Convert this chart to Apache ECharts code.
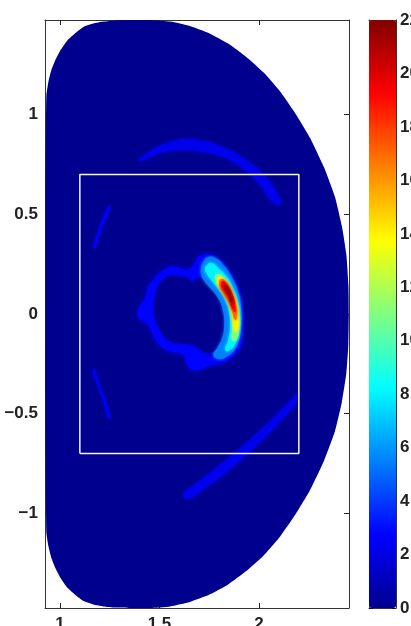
<!DOCTYPE html>
<html>
<head>
<meta charset="utf-8">
<script src="https://cdn.jsdelivr.net/npm/echarts@6/dist/echarts.min.js"></script>
<style>
  html, body { margin: 0; padding: 0; background: #ffffff; }
  #chart { width: 411px; height: 626px; }
</style>
</head>
<body>
<div id="chart"></div>
<script>
// Poloidal cross-section (R, Z in metres) with emissivity levels.

// Plasma boundary, upper and lower halves
const wallUpper = [[0.927,0],[0.927,0.571],[0.930,0.972],[0.932,1.098],[0.942,1.163],[0.957,1.223],[0.977,1.273],[1.003,1.323],[1.038,1.373],[1.078,1.409],[1.118,1.439],[1.168,1.456],[1.218,1.466],[1.278,1.472],[1.353,1.474],[1.454,1.474],[1.554,1.466],[1.652,1.444],[1.749,1.408],[1.845,1.356],[1.936,1.289],[2.025,1.209],[2.108,1.113],[2.185,1.002],[2.256,0.884],[2.326,0.737],[2.381,0.589],[2.416,0.442],[2.439,0.295],[2.449,0.147],[2.451,0]];
const wallLower = [[2.449,-0.147],[2.439,-0.295],[2.416,-0.442],[2.381,-0.589],[2.326,-0.737],[2.256,-0.884],[2.185,-1.002],[2.108,-1.113],[2.025,-1.209],[1.936,-1.289],[1.845,-1.356],[1.749,-1.408],[1.652,-1.444],[1.554,-1.466],[1.454,-1.474],[1.353,-1.474],[1.278,-1.472],[1.218,-1.466],[1.168,-1.456],[1.118,-1.439],[1.078,-1.409],[1.038,-1.373],[1.003,-1.323],[0.977,-1.273],[0.957,-1.223],[0.942,-1.163],[0.932,-1.098],[0.930,-0.972],[0.927,-0.571]];

// Faint arcs
const upperArc = [[1.394,0.772],[1.469,0.827],[1.554,0.862],[1.639,0.877],[1.719,0.867],[1.805,0.842],[1.890,0.802],[1.970,0.747],[2.040,0.682],[2.090,0.607],[2.110,0.546],[2.070,0.561],[2.005,0.647],[1.940,0.712],[1.855,0.772],[1.770,0.802],[1.689,0.817],[1.604,0.822],[1.519,0.812],[1.454,0.787],[1.404,0.767]];
const lowerArc = [[1.619,-0.902],[1.694,-0.842],[1.795,-0.762],[1.895,-0.682],[1.990,-0.597],[2.080,-0.511],[2.155,-0.436],[2.196,-0.396],[2.206,-0.411],[2.171,-0.466],[2.100,-0.546],[2.015,-0.632],[1.925,-0.717],[1.825,-0.802],[1.724,-0.877],[1.644,-0.927]];
const leftUpperArc = [[1.168,0.336],[1.188,0.406],[1.218,0.486],[1.243,0.541],[1.253,0.536],[1.228,0.471],[1.198,0.396],[1.178,0.331]];
const leftLowerArc = [[1.163,-0.281],[1.188,-0.356],[1.218,-0.441],[1.243,-0.526],[1.253,-0.521],[1.228,-0.431],[1.198,-0.351],[1.173,-0.276]];
const arcValues = [2.3, 2.3, 2.5, 2.5];

// Radiating ring around the core
const ringOuter = [[1.514,0.216],[1.549,0.236],[1.589,0.236],[1.639,0.221],[1.679,0.256],[1.689,0.281],[1.714,0.296],[1.754,0.296],[1.790,0.281],[1.840,0.231],[1.880,0.160],[1.905,0.095],[1.920,0.010],[1.920,-0.070],[1.915,-0.140],[1.890,-0.191],[1.845,-0.231],[1.790,-0.251],[1.744,-0.261],[1.714,-0.276],[1.664,-0.281],[1.639,-0.251],[1.629,-0.216],[1.604,-0.196],[1.564,-0.191],[1.519,-0.171],[1.479,-0.125],[1.454,-0.075],[1.434,-0.040],[1.404,-0.030],[1.389,-0.005],[1.399,0.035],[1.429,0.080],[1.444,0.135],[1.479,0.185]];
const ringHole = [[1.554,0.190],[1.594,0.185],[1.639,0.180],[1.664,0.160],[1.689,0.175],[1.719,0.180],[1.770,0.130],[1.815,0.060],[1.830,-0.005],[1.835,-0.070],[1.820,-0.130],[1.795,-0.171],[1.764,-0.196],[1.724,-0.191],[1.684,-0.160],[1.644,-0.150],[1.604,-0.145],[1.564,-0.140],[1.529,-0.115],[1.499,-0.070],[1.479,-0.020],[1.474,0.030],[1.479,0.085],[1.494,0.135],[1.519,0.170]];
const ringValues = [2.8, 0];

// Bright band on the low-field side, one contour per level
const band1 = [[1.719,0.261],[1.744,0.286],[1.780,0.281],[1.825,0.241],[1.865,0.180],[1.895,0.110],[1.910,0.030],[1.910,-0.055],[1.900,-0.130],[1.875,-0.181],[1.835,-0.216],[1.795,-0.226],[1.770,-0.206],[1.790,-0.171],[1.815,-0.120],[1.825,-0.055],[1.820,0.010],[1.800,0.070],[1.764,0.120],[1.729,0.160],[1.709,0.200],[1.709,0.236]];
const band2 = [[1.739,0.246],[1.764,0.256],[1.795,0.231],[1.835,0.190],[1.870,0.130],[1.895,0.060],[1.905,-0.020],[1.900,-0.090],[1.885,-0.140],[1.855,-0.181],[1.830,-0.181],[1.845,-0.130],[1.855,-0.060],[1.850,0.010],[1.830,0.070],[1.800,0.120],[1.764,0.165],[1.739,0.200],[1.729,0.226]];
const band3 = [[1.790,0.200],[1.820,0.185],[1.855,0.135],[1.885,0.070],[1.900,-0.005],[1.900,-0.080],[1.885,-0.130],[1.865,-0.130],[1.865,-0.070],[1.860,-0.005],[1.845,0.060],[1.820,0.110],[1.790,0.155],[1.780,0.180]];
const band4 = [[1.800,0.185],[1.830,0.170],[1.860,0.120],[1.885,0.060],[1.895,-0.010],[1.895,-0.070],[1.880,-0.090],[1.870,-0.040],[1.860,0.020],[1.840,0.075],[1.810,0.120],[1.790,0.155]];
const band5 = [[1.810,0.175],[1.840,0.155],[1.865,0.105],[1.885,0.045],[1.890,-0.005],[1.880,-0.030],[1.865,0.010],[1.845,0.060],[1.815,0.110],[1.800,0.145]];
const band6 = [[1.820,0.165],[1.845,0.140],[1.870,0.090],[1.880,0.040],[1.880,0.010],[1.865,0.030],[1.845,0.080],[1.820,0.120],[1.810,0.145]];
const band7 = [[1.830,0.145],[1.850,0.120],[1.865,0.080],[1.870,0.045],[1.855,0.070],[1.840,0.105],[1.825,0.130]];
const bandLevels = [5.5, 8, 11, 14, 17, 19.5, 21.5];

// Viewing window
const windowR = [1.1, 1.1, 2.2, 2.2, 1.1];
const windowZ = [-0.7, 0.7, 0.7, -0.7, -0.7];

// Axes and colour scale
const xTicks = [1, 1.5, 2];
const yTicks = [-1, -0.5, 0, 0.5, 1];
const rRange = [0.925, 2.452];
const zRange = [-1.474, 1.474];
const cRange = [0, 22];
const cStep = 2;

const jet = ['#00008f', '#0000ff', '#0080ff', '#00ffff', '#80ff80', '#ffff00', '#ff8000', '#ff0000', '#800000'];

const labelFont = { fontFamily: 'Liberation Sans, Arial, sans-serif', fontWeight: 'bold', fontSize: 17, color: '#222222' };
const fmt = v => String(v).replace('-', '\u2212');

function polygonSeries(name, pts, value, smooth, blur) {
  return {
    type: 'custom',
    name: name,
    coordinateSystem: 'cartesian2d',
    xAxisIndex: 0,
    yAxisIndex: 0,
    clip: true,
    silent: true,
    encode: { x: 0, y: 1 },
    data: pts.map(p => [p[0], p[1], value]),
    renderItem: function (params, api) {
      if (params.dataIndex !== 0) return null;
      const points = pts.map(p => api.coord(p));
      const color = api.visual('color');
      return {
        type: 'polygon',
        shape: { points: points, smooth: smooth },
        style: { fill: color, shadowBlur: blur, shadowColor: color }
      };
    }
  };
}

const series = [];
series.push(polygonSeries('plasma', wallUpper.concat(wallLower), 0, 0.15, 0));
[upperArc, lowerArc, leftUpperArc, leftLowerArc].forEach((a, i) =>
  series.push(polygonSeries('arc' + i, a, arcValues[i], 0.4, 3)));
series.push(polygonSeries('ring', ringOuter, ringValues[0], 0.4, 4));
series.push(polygonSeries('ringHole', ringHole, ringValues[1], 0.4, 3));
[band1, band2, band3, band4, band5, band6, band7].forEach((b, i) =>
  series.push(polygonSeries('band' + i, b, bandLevels[i], 0.5, 3)));
const customCount = series.length;

series.push({
  type: 'line',
  name: 'window',
  xAxisIndex: 0,
  yAxisIndex: 0,
  data: windowR.map((r, i) => [r, windowZ[i]]),
  symbol: 'none',
  silent: true,
  lineStyle: { color: '#f6f6f6', width: 1.5 },
  z: 5
});

const tickStyle = { inside: true, length: 5, lineStyle: { color: '#222', width: 1 } };
const lineStyle = { show: true, onZero: false, lineStyle: { color: '#333', width: 1 } };

const option = {
  animation: false,
  backgroundColor: '#ffffff',
  grid: [
    { left: 45, top: 20, width: 304, height: 588, show: false, containLabel: false, outerBoundsMode: 'none' },
    { left: 369, top: 20, width: 27, height: 588, show: false, containLabel: false, outerBoundsMode: 'none' }
  ],
  xAxis: [
    { type: 'value', gridIndex: 0, position: 'bottom', min: rRange[0], max: rRange[1],
      axisLine: lineStyle, splitLine: { show: false },
      axisTick: Object.assign({ customValues: xTicks }, tickStyle),
      axisLabel: Object.assign({ customValues: xTicks, margin: 8, formatter: fmt }, labelFont) },
    { type: 'value', gridIndex: 0, position: 'top', min: rRange[0], max: rRange[1],
      axisLine: lineStyle, splitLine: { show: false },
      axisTick: Object.assign({ customValues: xTicks }, tickStyle),
      axisLabel: { show: false } },
    { type: 'value', gridIndex: 1, position: 'bottom', min: 0, max: 1,
      axisLine: lineStyle, axisTick: { show: false }, axisLabel: { show: false }, splitLine: { show: false } },
    { type: 'value', gridIndex: 1, position: 'top', min: 0, max: 1,
      axisLine: lineStyle, axisTick: { show: false }, axisLabel: { show: false }, splitLine: { show: false } }
  ],
  yAxis: [
    { type: 'value', gridIndex: 0, position: 'left', min: zRange[0], max: zRange[1],
      axisLine: lineStyle, splitLine: { show: false },
      axisTick: Object.assign({ customValues: yTicks }, tickStyle),
      axisLabel: Object.assign({ customValues: yTicks, margin: 7, formatter: fmt }, labelFont) },
    { type: 'value', gridIndex: 0, position: 'right', min: zRange[0], max: zRange[1],
      axisLine: lineStyle, splitLine: { show: false },
      axisTick: Object.assign({ customValues: yTicks }, tickStyle),
      axisLabel: { show: false } },
    { type: 'value', gridIndex: 1, position: 'right', min: cRange[0], max: cRange[1], interval: cStep,
      axisLine: lineStyle, splitLine: { show: false },
      axisTick: { inside: true, length: 4, lineStyle: { color: '#111', width: 1 } },
      axisLabel: Object.assign({ margin: 4 }, labelFont) },
    { type: 'value', gridIndex: 1, position: 'left', min: cRange[0], max: cRange[1], interval: cStep,
      axisLine: lineStyle, splitLine: { show: false },
      axisTick: { inside: true, length: 4, lineStyle: { color: '#111', width: 1 } },
      axisLabel: { show: false } }
  ],
  visualMap: {
    type: 'continuous',
    min: cRange[0],
    max: cRange[1],
    dimension: 2,
    seriesIndex: Array.from({ length: customCount }, (_, i) => i),
    inRange: { color: jet },
    calculable: false,
    realtime: false,
    orient: 'vertical',
    left: 369,
    top: 20,
    itemWidth: 27,
    itemHeight: 588,
    padding: 0,
    text: null,
    hoverLink: false
  },
  series: series
};

const chart = echarts.init(document.getElementById('chart'), null, { renderer: 'canvas' });
chart.setOption(option);
</script>
</body>
</html>
